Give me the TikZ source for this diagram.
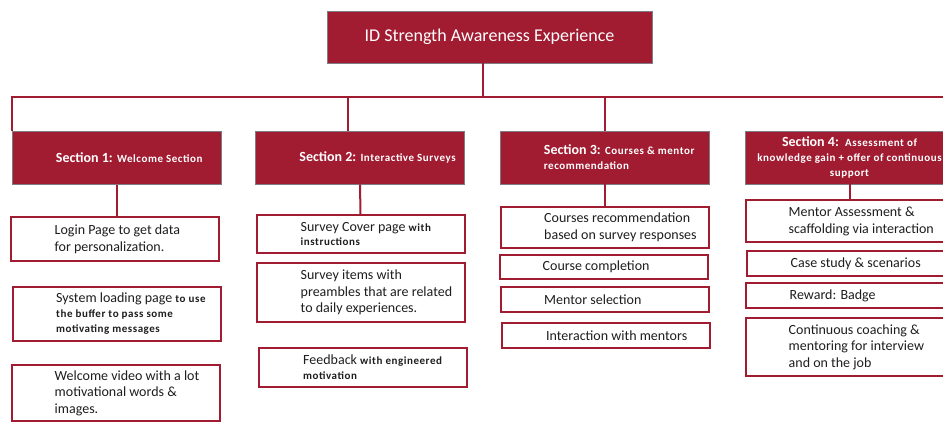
\documentclass[tikz,border=0pt]{standalone}
\usepackage{fontspec}
\setmainfont{Carlito}
\newfontfamily\minorfont[LetterSpace=5]{Carlito}
\usetikzlibrary{positioning}
\definecolor{idred}{RGB}{161,27,49}
\definecolor{edgegray}{RGB}{125,125,135}
\definecolor{ink}{RGB}{30,30,30}
% smaller bold words that follow a heading or a first phrase
\newcommand{\minor}[1]{{\minorfont\fontsize{11}{15}\selectfont\bfseries #1}}
\begin{document}
\begin{tikzpicture}[x=1pt,y=-1pt,
  head/.style={draw=edgegray,line width=0.6pt,fill=idred,minimum width=209pt,minimum height=53pt,inner sep=0pt},
  leaf/.style={draw=idred,line width=2pt,fill=white,minimum width=208pt,inner sep=0pt},
  txt/.style={anchor=west,align=left,inner sep=0pt,text=ink,font=\fontsize{14}{17}\selectfont},
  htxt/.style={anchor=west,align=left,inner sep=0pt,text=white,font=\fontsize{14}{15}\selectfont\bfseries},
  link/.style={draw=idred,line width=2pt}]
\useasboundingbox (0,0) rectangle (943,422);
\clip (0,0) rectangle (943,422);

% top level
\node[head,minimum width=325pt,minimum height=52pt,text=white,font=\fontsize{18}{20}\selectfont] (title) at (489.5,37) {ID Strength Awareness Experience};

% the four sections
\node[head] (sec1) at (116.5,158) {};
\node[htxt] (sec1-t) at ([xshift=44pt]sec1.west) {Section 1: \minor{Welcome Section}};
\node[head] (sec2) at (360,157.5) {};
\node[htxt] (sec2-t) at ([xshift=44pt]sec2.west) {Section 2: \minor{Interactive Surveys}};
\node[head] (sec3) at (604.5,157.5) {};
\node[htxt] (sec3-t) at ([xshift=44pt]sec3.west) {Section 3: \minor{Courses \& mentor}\\\minor{recommendation}};
\node[head] (sec4) at (849.5,157.5) {};
\node[htxt,anchor=center,align=center] (sec4-t) at (sec4.center) {Section 4:\ \ \minor{Assessment of}\\\minor{knowledge gain + offer of continuous}\\\minor{support}};

% section 1
\node[leaf,minimum height=44pt] (login) at (114.5,239) {};
\node[txt] (login-t) at ([xshift=45pt]login.west) {Login Page to get data\\for personalization.};
\node[leaf,minimum height=54pt] (sysload) at (117,314) {};
\node[txt,font=\fontsize{14}{15}\selectfont] (sysload-t) at ([xshift=44pt]sysload.west) {System loading page \minor{to use}\\\minor{the buffer to pass some}\\\minor{motivating messages}};
\node[leaf,minimum height=56pt] (video) at (115.5,393) {};
\node[txt,font=\fontsize{14}{16.5}\selectfont] (video-t) at ([xshift=44pt]video.west) {Welcome video with a lot\\motivational words \&\\images.};

% section 2
\node[leaf,minimum height=38pt] (cover) at (360.5,234) {};
\node[txt,font=\fontsize{14}{14}\selectfont] (cover-t) at ([xshift=45pt]cover.west) {Survey Cover page \minor{with}\\\minor{instructions}};
\node[leaf,minimum height=59pt] (items) at (360.5,292.5) {};
\node[txt,font=\fontsize{14}{16.5}\selectfont] (items-t) at ([xshift=45pt]items.west) {Survey items with\\preambles that are related\\to daily experiences.};
\node[leaf,minimum height=39pt] (feedback) at (363,367.5) {};
\node[txt,font=\fontsize{14}{15}\selectfont] (feedback-t) at ([xshift=45pt]feedback.west) {Feedback \minor{with engineered}\\\minor{motivation}};

% section 3
\node[leaf,minimum height=41pt] (crec) at (605,227.5) {};
\node[txt] (crec-t) at ([xshift=44pt]crec.west) {Courses recommendation\\based on survey responses};
\node[leaf,minimum height=24pt] (ccomp) at (603.5,267) {};
\node[txt] (ccomp-t) at ([xshift=44pt]ccomp.west) {Course completion};
\node[leaf,minimum height=25pt] (msel) at (605,299.5) {};
\node[txt] (msel-t) at ([xshift=44pt]msel.west) {Mentor selection};
\node[leaf,minimum height=25pt] (inter) at (606,335.5) {};
\node[txt] (inter-t) at ([xshift=45pt]inter.west) {Interaction with mentors};

% section 4
\node[leaf,minimum height=42pt] (massess) at (849.5,221) {};
\node[txt] (massess-t) at ([xshift=44pt]massess.west) {Mentor Assessment \&\\scaffolding via interaction};
\node[leaf,minimum height=25pt] (case) at (850.5,263.5) {};
\node[txt] (case-t) at ([xshift=45pt]case.west) {Case study \& scenarios};
\node[leaf,minimum height=25pt] (reward) at (849.5,295.5) {};
\node[txt] (reward-t) at ([xshift=45pt]reward.west) {Reward: Badge};
\node[leaf,minimum height=58pt] (coach) at (849.5,347) {};
\node[txt,font=\fontsize{14}{16.5}\selectfont] (coach-t) at ([xshift=44pt]coach.west) {Continuous coaching \&\\mentoring for interview\\and on the job};

% connectors
\coordinate (hub) at (483,97.5);
\coordinate (busend) at (960,97.5);
\draw[link] (title.south -| hub) -- (hub);
\draw[link] (sec1.north west) |- (busend);
\draw[link] ([xshift=-12pt]sec2.north) -- ([xshift=-12pt]sec2.north |- hub);
\draw[link] (sec3.north) -- (sec3.north |- hub);
\draw[link] (sec1.south) -- (sec1.south |- login.north);
\draw[link] (sec2.south) -- (cover.north);
\draw[link] (sec3.south) -- (sec3.south |- crec.north);
\draw[link] (sec4.south) -- (massess.north);
\end{tikzpicture}
\end{document}
